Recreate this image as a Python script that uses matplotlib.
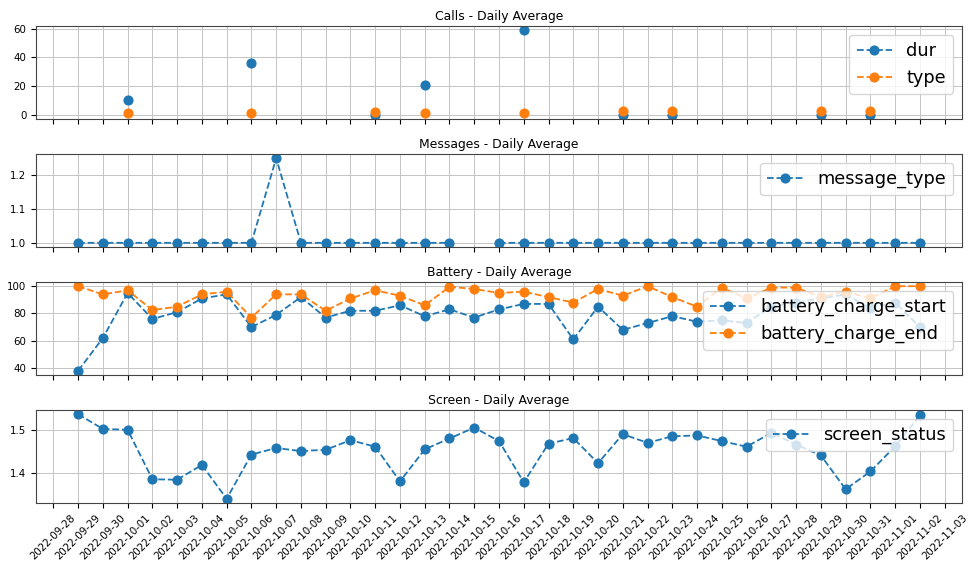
import numpy as np
import pandas as pd
import matplotlib
matplotlib.use("Agg")
import matplotlib.pyplot as plt
import matplotlib.dates as mdates

nan = np.nan

# daily index 2022-09-29 .. 2022-11-02
dates = pd.date_range("2022-09-29", "2022-11-02", freq="D")

# Calls - Daily Average
calls_dur = [nan, nan, 10, nan, nan, nan, nan, 36, nan, nan, nan, nan, 0, nan, 21, nan,
             nan, nan, 59, nan, nan, nan, 0, nan, 0, nan, nan, nan, nan, nan, 0, nan,
             0, nan, nan]
calls_type = [nan, nan, 1, nan, nan, nan, nan, 1, nan, nan, nan, nan, 2, nan, 1, nan,
              nan, nan, 1, nan, nan, nan, 3, nan, 3, nan, nan, nan, nan, nan, 3, nan,
              3, nan, nan]

# Messages - Daily Average
message_type = [1.0, 1.0, 1.0, 1.0, 1.0, 1.0, 1.0, 1.0, 1.25, 1.0, 1.0, 1.0, 1.0, 1.0,
                1.0, 1.0, nan, 1.0, 1.0, 1.0, 1.0, 1.0, 1.0, 1.0, 1.0, 1.0, 1.0, 1.0,
                1.0, 1.0, 1.0, 1.0, 1.0, 1.0, 1.0]

# Battery - Daily Average
battery_charge_start = [38, 62, 95, 76, 81, 91, 94, 70, 79, 92, 77, 82, 82, 86, 78, 83,
                        77, 83, 87, 87, 61, 85, 68, 73, 78, 74, 75, 73, 85, 88, 91, 94,
                        84, 88, 70]
battery_charge_end = [100, 94, 97, 82.5, 85, 94, 96, 77, 94, 94, 82, 91, 97, 93, 86, 99.5,
                      98, 95, 96, 92, 88, 98, 93, 100, 92, 85, 99, 91, 99, 99, 92, 96,
                      91, 100, 100]

# Screen - Daily Average
screen_status = [1.536, 1.502, 1.500, 1.386, 1.385, 1.419, 1.341, 1.443, 1.458, 1.451,
                 1.454, 1.476, 1.461, 1.381, 1.455, 1.480, 1.505, 1.474, 1.379, 1.468,
                 1.481, 1.423, 1.490, 1.470, 1.485, 1.487, 1.474, 1.461, 1.493, 1.466,
                 1.441, 1.363, 1.404, 1.462, 1.533]

panels = [
    ("Calls - Daily Average", {"dur": calls_dur, "type": calls_type}),
    ("Messages - Daily Average", {"message_type": message_type}),
    ("Battery - Daily Average", {"battery_charge_start": battery_charge_start,
                                 "battery_charge_end": battery_charge_end}),
    ("Screen - Daily Average", {"screen_status": screen_status}),
]

fig, axes = plt.subplots(4, 1, figsize=(9.73, 5.70), dpi=100, sharex=True)
fig.subplots_adjust(left=0.037, right=0.9887, top=0.9544, bottom=0.1175, hspace=0.375)

for ax, (title, series) in zip(axes, panels):
    for name, vals in series.items():
        ax.plot(dates, vals, linestyle="--", marker="o", markersize=6.3,
                linewidth=1.3, label=name)
    ax.set_title(title, fontsize=8.9, pad=4)
    ax.grid(True, color="#c4c4c4", linewidth=0.7)
    ax.legend(loc="upper right", fontsize=12.8)
    ax.tick_params(labelsize=7.4)
    for sp in ax.spines.values():
        sp.set_color("#444444")

axes[0].set_yticks([0, 20, 40, 60])
axes[1].set_yticks([1.0, 1.1, 1.2])
axes[2].set_yticks([40, 60, 80, 100])
axes[3].set_yticks([1.4, 1.5])

axes[-1].xaxis.set_major_locator(mdates.DayLocator(interval=1))
axes[-1].xaxis.set_major_formatter(mdates.DateFormatter("%Y-%m-%d"))
plt.setp(axes[-1].get_xticklabels(), rotation=45, ha="center")

fig.savefig("out.png", dpi=100)
